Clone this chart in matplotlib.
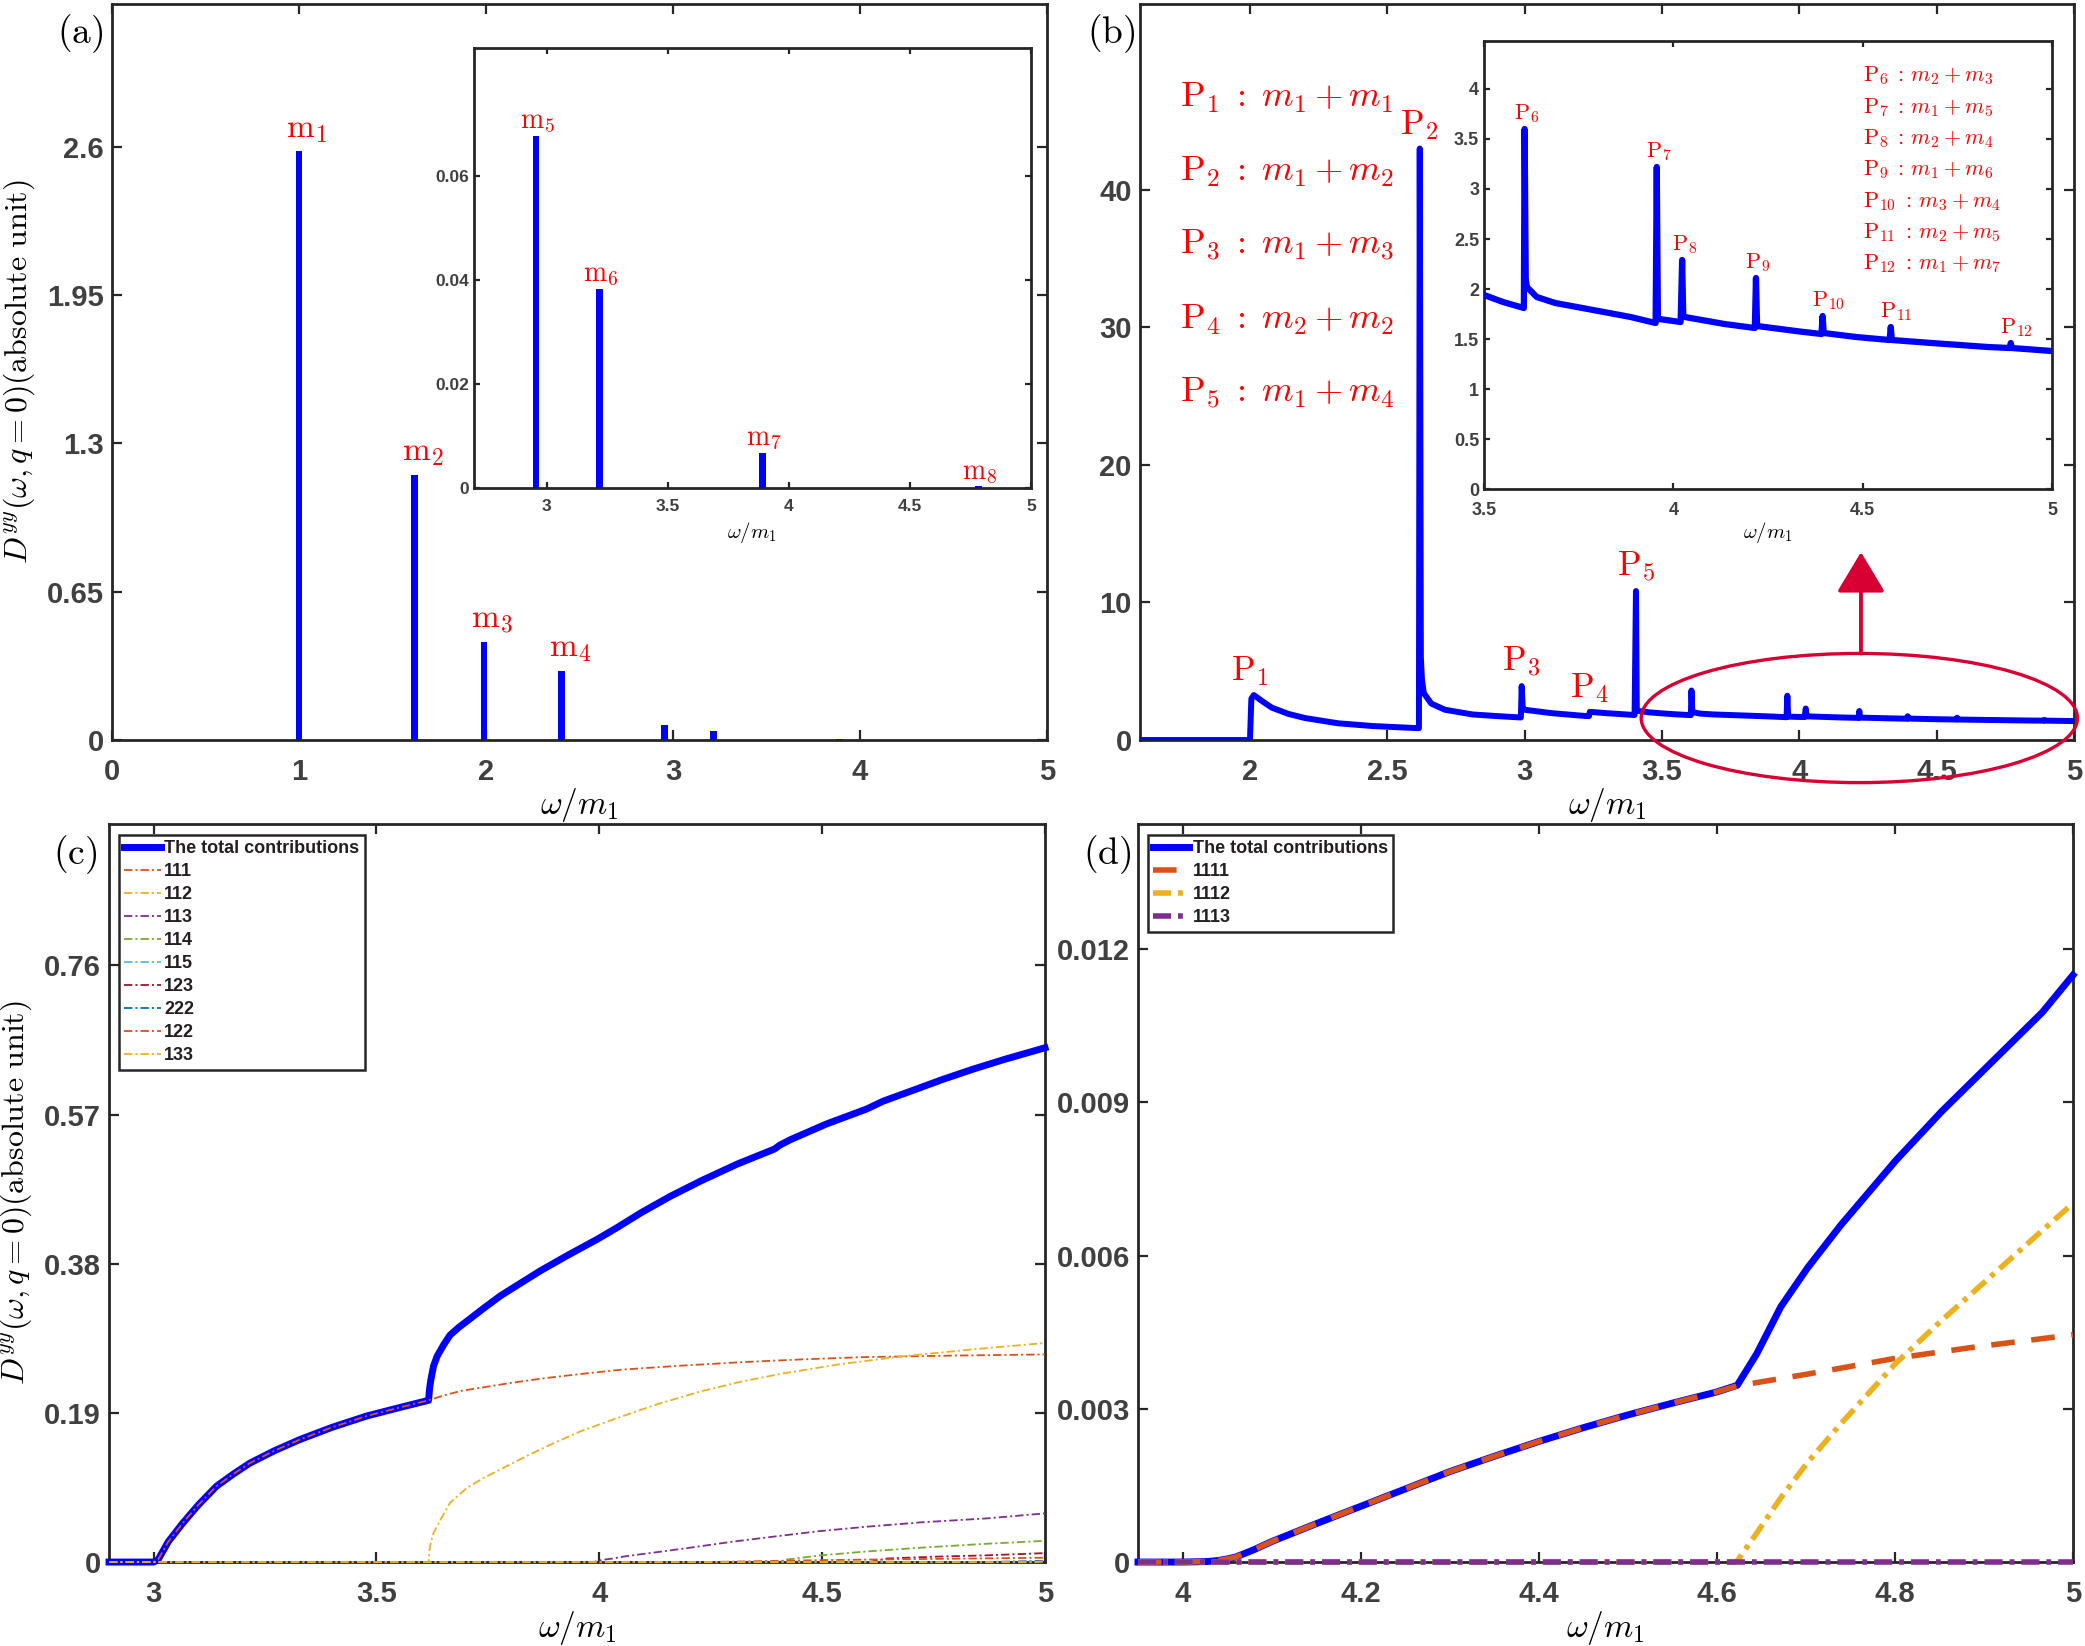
import matplotlib
matplotlib.use('Agg')
import matplotlib.pyplot as plt
from matplotlib.patches import Ellipse
from matplotlib.ticker import FormatStrFormatter

plt.rcParams['font.family'] = ['Liberation Sans', 'DejaVu Sans']
plt.rcParams['font.weight'] = 'bold'
plt.rcParams['mathtext.fontset'] = 'cm'
plt.rcParams['lines.scale_dashes'] = False

# ---------------- data ----------------
# (a) single-particle peaks
m_pos = [1.0, 1.618, 1.989, 2.405, 2.956, 3.218, 3.891, 4.783]
m_height = [2.58, 1.163, 0.431, 0.304, 0.0676, 0.0382, 0.0067, 0.0003]
m_names = [r'$\mathrm{m}_%d$' % i for i in range(1, 9)]

# (b) two-particle continuum
b_x = [1.6, 2.0, 2.005, 2.014, 2.05, 2.08, 2.14, 2.20, 2.32, 2.445, 2.55, 2.615,
       2.618, 2.622, 2.626, 2.633, 2.66, 2.71, 2.81, 2.90, 2.986, 2.989, 2.993, 3.0,
       3.1, 3.22, 3.234, 3.237, 3.30, 3.40, 3.405, 3.408, 3.412, 3.45, 3.5, 3.55,
       3.605, 3.607, 3.610, 3.613, 3.639, 3.688, 3.788, 3.887, 3.953, 3.956, 3.959,
       3.962, 4.019, 4.023, 4.026, 4.030, 4.135, 4.215, 4.218, 4.221, 4.334, 4.391,
       4.394, 4.397, 4.483, 4.571, 4.574, 4.577, 4.682, 4.831, 4.888, 4.891, 4.894, 5.0]
b_y = [0, 0, 3.0, 3.27, 2.75, 2.35, 1.9, 1.6, 1.22, 1.02, 0.92, 0.86,
       43.0, 6.0, 4.4, 3.4, 2.65, 2.2, 1.86, 1.74, 1.64, 3.92, 2.3, 2.2,
       1.95, 1.75, 1.74, 2.05, 1.95, 1.82, 10.83, 2.2, 2.12, 2.02, 1.94, 1.87,
       1.81, 3.60, 2.1, 2.02, 1.92, 1.86, 1.79, 1.72, 1.66, 3.22, 1.72,
       1.70, 1.67, 2.29, 1.73, 1.72, 1.65, 1.61, 2.11, 1.63, 1.575, 1.55,
       1.73, 1.56, 1.52, 1.49, 1.62, 1.49, 1.46, 1.42, 1.41, 1.46, 1.41, 1.38]
p_pos = [2.0, 2.618, 2.989, 3.236, 3.405, 3.607, 3.956, 4.023, 4.218, 4.394, 4.574, 4.891]
p_peak = [3.27, 43.0, 3.92, 2.05, 10.83, 3.60, 3.22, 2.29, 2.11, 1.73, 1.62, 1.46]
p_rules = [r'm_1+m_1', r'm_1+m_2', r'm_1+m_3', r'm_2+m_2', r'm_1+m_4', r'm_2+m_3',
           r'm_1+m_5', r'm_2+m_4', r'm_1+m_6', r'm_3+m_4', r'm_2+m_5', r'm_1+m_7']

# (c) three-particle contributions
c_tot_x = [2.9, 3.0, 3.01, 3.033, 3.066, 3.1, 3.141, 3.18, 3.216, 3.27, 3.328, 3.4,
           3.478, 3.55, 3.617, 3.619, 3.622, 3.628, 3.636, 3.65, 3.665, 3.685, 3.708,
           3.74, 3.778, 3.82, 3.868, 3.93, 3.995, 4.04, 4.094, 4.16, 4.23, 4.31, 4.393,
           4.405, 4.429, 4.51, 4.6, 4.637, 4.70, 4.772, 4.84, 4.908, 5.0]
c_tot_y = [0, 0, 0.003, 0.026, 0.050, 0.0725, 0.0966, 0.1125, 0.126, 0.1415, 0.156,
           0.1715, 0.186, 0.1965, 0.206, 0.220, 0.232, 0.2495, 0.262, 0.276, 0.289,
           0.299, 0.309, 0.323, 0.339, 0.354, 0.371, 0.391, 0.411, 0.426, 0.445, 0.466,
           0.486, 0.507, 0.526, 0.531, 0.538, 0.558, 0.577, 0.587, 0.600, 0.615, 0.628,
           0.640, 0.655]
c_parts = {
    '111': ([2.9, 3.0, 3.01, 3.033, 3.066, 3.1, 3.141, 3.18, 3.216, 3.27, 3.328, 3.4,
             3.478, 3.55, 3.617, 3.65, 3.69, 3.734, 3.8, 3.868, 3.95, 4.049, 4.18, 4.32,
             4.45, 4.591, 4.8, 5.0],
            [0, 0, 0.003, 0.026, 0.050, 0.0725, 0.0966, 0.1125, 0.126, 0.1415, 0.156,
             0.1715, 0.186, 0.1965, 0.206, 0.212, 0.218, 0.222, 0.228, 0.2335, 0.239,
             0.245, 0.250, 0.2546, 0.258, 0.261, 0.263, 0.2644]),
    '112': ([2.9, 3.617, 3.619, 3.622, 3.628, 3.64, 3.665, 3.703, 3.74, 3.778, 3.84,
             3.9, 3.96, 4.031, 4.13, 4.23, 4.32, 4.41, 4.54, 4.68, 4.84, 5.0],
            [0, 0, 0.015, 0.025, 0.037, 0.050, 0.0754, 0.0945, 0.107, 0.118, 0.136,
             0.152, 0.167, 0.1816, 0.201, 0.2177, 0.230, 0.240, 0.252, 0.262, 0.271,
             0.279]),
    '113': ([2.9, 3.989, 3.995, 4.01, 4.03, 4.06, 4.115, 4.2, 4.3, 4.4, 4.494, 4.6,
             4.72, 4.872, 5.0],
            [0, 0, 0.0015, 0.003, 0.0045, 0.0075, 0.0115, 0.018, 0.026, 0.033, 0.0394,
             0.045, 0.0505, 0.0557, 0.062]),
    '114': ([2.9, 4.405, 4.418, 4.494, 4.6, 4.721, 4.86, 5.0],
            [0, 0, 0.003, 0.0084, 0.0135, 0.0183, 0.023, 0.0271]),
    '115': ([2.9, 4.956, 5.0], [0, 0, 0.001]),
    '123': ([2.9, 4.607, 4.645, 4.75, 4.872, 5.0], [0, 0, 0.0045, 0.0068, 0.0086, 0.0114]),
    '222': ([2.9, 4.854, 5.0], [0, 0, 0.0015]),
    '122': ([2.9, 4.236, 4.5, 5.0], [0, 0, 0.0025, 0.0055]),
    '133': ([2.9, 4.978, 5.0], [0, 0, 0.001]),
}
c_colors = ['#D95319', '#EDB120', '#7E2F8E', '#77AC30', '#4DBEEE',
            '#A2142F', '#0072BD', '#D95319', '#EDB120']

# (d) four-particle contributions
d_tot_x = [3.95, 4.0, 4.028, 4.04, 4.05, 4.06, 4.08, 4.1, 4.15, 4.2, 4.25, 4.3, 4.35,
           4.4, 4.45, 4.5, 4.55, 4.6, 4.623, 4.645, 4.672, 4.702, 4.7395, 4.801, 4.8525,
           4.909, 4.9655, 5.0]
d_tot_y = [0, 0, 0.00001, 0.00003, 0.00006, 0.0001, 0.00024, 0.0004, 0.00075, 0.00109,
           0.00143, 0.00177, 0.00207, 0.00236, 0.00263, 0.00288, 0.00311, 0.00333,
           0.00346, 0.00408, 0.0050, 0.00576, 0.0066, 0.00786, 0.00882, 0.00979,
           0.01076, 0.01149]
d_1111_x = [3.95, 4.0, 4.028, 4.04, 4.05, 4.06, 4.08, 4.1, 4.15, 4.2, 4.25, 4.3, 4.35,
            4.4, 4.45, 4.5, 4.55, 4.6, 4.623, 4.702, 4.801, 4.89, 5.0]
d_1111_y = [0, 0, 0.00001, 0.00003, 0.00006, 0.0001, 0.00024, 0.0004, 0.00075, 0.00109,
            0.00143, 0.00177, 0.00207, 0.00236, 0.00263, 0.00288, 0.00311, 0.00333,
            0.00345, 0.00368, 0.00399, 0.00421, 0.00445]
d_1112_x = [3.95, 4.62, 4.623, 4.645, 4.672, 4.702, 4.7395, 4.801, 4.8525, 4.909,
            4.9655, 5.0]
d_1112_y = [0, 0, 0.00002, 0.00057, 0.00126, 0.00195, 0.00271, 0.00389, 0.00473,
            0.00561, 0.00649, 0.00702]
d_1113_x = [3.95, 5.0]
d_1113_y = [0, 0]

# ---------------- style helpers ----------------
BLUE = '#0000FF'
RED = '#FF0000'
AXC = '#262626'
TXT = '#404040'
XLAB = r'$\omega/m_1$'
YLAB = r'$D^{yy}(\omega,q=0)(\mathrm{absolute\ unit})$'


def style(ax, size, tlen, xpad, ypad):
    ax.tick_params(direction='in', top=True, right=True, length=tlen, width=1.6,
                   color=AXC, labelcolor=TXT, labelsize=size)
    ax.tick_params(axis='x', pad=xpad)
    ax.tick_params(axis='y', pad=ypad)
    for s in ax.spines.values():
        s.set_linewidth(2.0)
        s.set_color(AXC)
    ax.xaxis.set_major_formatter(FormatStrFormatter('%g'))
    ax.yaxis.set_major_formatter(FormatStrFormatter('%g'))


def box_legend(ax, x0):
    leg = ax.legend(loc='upper left', bbox_to_anchor=(x0, 0.985), borderaxespad=0,
                    fontsize=13, handlelength=2.0, handletextpad=0.2,
                    labelspacing=0.33, borderpad=0.3, fancybox=False, framealpha=1,
                    edgecolor=AXC)
    leg.get_frame().set_linewidth(1.8)
    for t in leg.get_texts():
        t.set_color('#231f20')


fig = plt.figure(figsize=(20.85, 16.46), dpi=100)
ax_a = fig.add_axes([0.0537, 0.5504, 0.4484, 0.4471])
ax_b = fig.add_axes([0.5468, 0.5504, 0.4480, 0.4471])
ax_c = fig.add_axes([0.0523, 0.0510, 0.4489, 0.4484])
ax_d = fig.add_axes([0.5458, 0.0510, 0.4484, 0.4484])
in_a = fig.add_axes([0.2273, 0.7035, 0.2671, 0.2673])
in_b = fig.add_axes([0.7118, 0.7029, 0.2724, 0.2722])

# ---------------- (a) ----------------
ax_a.bar(m_pos, m_height, width=0.036, color=BLUE, zorder=3)
for i in range(4):
    ax_a.annotate(m_names[i], (m_pos[i], m_height[i]), xytext=(-9, 4.5),
                  textcoords='offset points', ha='left', va='bottom',
                  color=RED, fontsize=24)
ax_a.set_xlim(0, 5)
ax_a.set_ylim(0, 3.225)
ax_a.set_xticks([0, 1, 2, 3, 4, 5])
ax_a.set_yticks([0, 0.65, 1.3, 1.95, 2.6])
style(ax_a, 21, 7, 13, 6)
ax_a.set_xlabel(XLAB, fontsize=24)
ax_a.set_ylabel(YLAB, fontsize=23)
ax_a.xaxis.set_label_coords(0.5, -0.063)
ax_a.xaxis.label.set_va('top')
ax_a.yaxis.set_label_coords(-0.08, 0.5)

in_a.bar(m_pos, m_height, width=0.028, color=BLUE, zorder=3)
for i in range(4, 8):
    in_a.annotate(m_names[i], (m_pos[i], m_height[i]), xytext=(-11.5, 0.5),
                  textcoords='offset points', ha='left', va='bottom',
                  color=RED, fontsize=20)
in_a.set_xlim(2.7, 5)
in_a.set_ylim(0, 0.0845)
in_a.set_xticks([3, 3.5, 4, 4.5, 5])
in_a.set_yticks([0, 0.02, 0.04, 0.06])
style(in_a, 12.5, 4.5, 8, 3.5)
in_a.set_xlabel(XLAB, fontsize=15)
in_a.xaxis.set_label_coords(0.5, -0.073)
in_a.xaxis.label.set_va('top')

# ---------------- (b) ----------------
ax_b.plot(b_x, b_y, color=BLUE, lw=4.3, solid_joinstyle='round',
          solid_capstyle='round', zorder=3)
for i in range(5):
    ax_b.annotate(r'$\mathrm{P}_{%d}$' % (i + 1), (p_pos[i], p_peak[i]),
                  xytext=(-14, 5), textcoords='offset points', ha='left',
                  va='bottom', color=RED, fontsize=25)
    ax_b.text(1.747, 46.7 - i * 5.37,
              r'$\mathrm{P}_{%d}\;:\;%s$' % (i + 1, p_rules[i]),
              ha='left', va='center', color=RED, fontsize=26)
ax_b.add_patch(Ellipse((4.218, 1.6), 1.588, 9.39, fill=False, ec='#D80032',
                       lw=2.4, clip_on=False, zorder=6))
ax_b.annotate('', xy=(4.224, 13.66), xytext=(4.224, 6.29),
              arrowprops=dict(arrowstyle='-|>,head_length=0.5,head_width=0.3',
                              color='#D80032', lw=2.8, mutation_scale=50,
                              shrinkA=0, shrinkB=0),
              annotation_clip=False)
ax_b.set_xlim(1.6, 5)
ax_b.set_ylim(0, 53.5)
ax_b.set_xticks([2, 2.5, 3, 3.5, 4, 4.5, 5])
ax_b.set_yticks([0, 10, 20, 30, 40])
style(ax_b, 21, 7, 13, 6)
ax_b.set_xlabel(XLAB, fontsize=24)
ax_b.xaxis.set_label_coords(0.5, -0.063)
ax_b.xaxis.label.set_va('top')

in_b.plot(b_x, b_y, color=BLUE, lw=4.5, solid_joinstyle='round',
          solid_capstyle='round', zorder=3)
for i in range(5, 12):
    in_b.annotate(r'$\mathrm{P}_{%d}$' % (i + 1), (p_pos[i], p_peak[i]),
                  xytext=(-7.6, 3), textcoords='offset points', ha='left',
                  va='bottom', color=RED, fontsize=16)
    in_b.text(4.50, 4.13 - (i - 5) * 0.313,
              r'$\mathrm{P}_{%d}\;:\,%s$' % (i + 1, p_rules[i]),
              ha='left', va='center', color=RED, fontsize=16)
in_b.set_xlim(3.5, 5)
in_b.set_ylim(0, 4.48)
in_b.set_xticks([3.5, 4, 4.5, 5])
in_b.set_yticks([0, 0.5, 1, 1.5, 2, 2.5, 3, 3.5, 4])
style(in_b, 13, 4.5, 9, 3.5)
in_b.set_xlabel(XLAB, fontsize=15)
in_b.xaxis.set_label_coords(0.5, -0.069)
in_b.xaxis.label.set_va('top')

# ---------------- (c) ----------------
ax_c.plot(c_tot_x, c_tot_y, color=BLUE, lw=5, label='The total contributions',
          zorder=3, clip_on=False, solid_joinstyle='round')
for (name, (xs, ys)), col in zip(c_parts.items(), c_colors):
    ax_c.plot(xs, ys, color=col, lw=1.3, dashes=(6, 2.2, 1.5, 2.2),
              label=name, zorder=4, clip_on=False)
ax_c.set_xlim(2.9, 5)
ax_c.set_ylim(0, 0.94)
ax_c.set_xticks([3, 3.5, 4, 4.5, 5])
ax_c.set_yticks([0, 0.19, 0.38, 0.57, 0.76])
style(ax_c, 21, 7, 13, 6)
ax_c.set_xlabel(XLAB, fontsize=24)
ax_c.set_ylabel(YLAB, fontsize=23)
ax_c.xaxis.set_label_coords(0.5, -0.063)
ax_c.xaxis.label.set_va('top')
ax_c.yaxis.set_label_coords(-0.0807, 0.5)
box_legend(ax_c, 0.0107)

# ---------------- (d) ----------------
ax_d.plot(d_tot_x, d_tot_y, color=BLUE, lw=5, label='The total contributions',
          zorder=3, clip_on=False, solid_joinstyle='round')
ax_d.plot(d_1111_x, d_1111_y, color='#D95319', lw=4, dashes=(17, 12),
          label='1111', zorder=4, clip_on=False)
ax_d.plot(d_1112_x, d_1112_y, color='#EDB120', lw=4, dashes=(13, 5, 3.5, 5),
          label='1112', zorder=4, clip_on=False)
ax_d.plot(d_1113_x, d_1113_y, color='#7E2F8E', lw=4, dashes=(13, 5, 3.5, 5),
          label='1113', zorder=4, clip_on=False)
ax_d.set_xlim(3.95, 5)
ax_d.set_ylim(0, 0.01445)
ax_d.set_xticks([4, 4.2, 4.4, 4.6, 4.8, 5])
ax_d.set_yticks([0, 0.003, 0.006, 0.009, 0.012])
style(ax_d, 21, 7, 13, 6)
ax_d.set_xlabel(XLAB, fontsize=24)
ax_d.xaxis.set_label_coords(0.5, -0.063)
ax_d.xaxis.label.set_va('top')
box_legend(ax_d, 0.0104)

# panel tags
for tag, x, y in [('a', 0.0384, 0.9793), ('b', 0.533, 0.9793),
                  ('c', 0.036, 0.4806), ('d', 0.531, 0.4806)]:
    fig.text(x, y, r'$\mathrm{(%s)}$' % tag, ha='center', va='center', fontsize=27)

fig.savefig('out.png', dpi=100)
